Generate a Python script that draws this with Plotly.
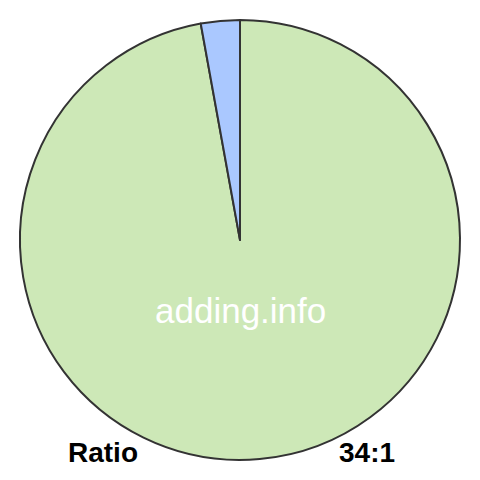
import plotly.graph_objects as go

# Ratio 34:1 shown as a pie
labels = ["34", "1"]
values = [34, 1]
colors = ["#cde8b7", "#aac8ff"]

# the page body adds an 8px margin, so shift everything up/left by 8px
off = 8

fig = go.Figure(go.Pie(
    labels=labels,
    values=values,
    sort=False,
    direction="clockwise",
    rotation=0,
    marker=dict(colors=colors, line=dict(color="#333333", width=2)),
    textinfo="none",
    hoverinfo="skip",
    domain=dict(x=[(20 - off) / 480, (460 - off) / 480],
                y=[(20 + off) / 480, (460 + off) / 480]),
))

font = "Liberation Sans, Arial, sans-serif"


def label(text, cx, cy, size, color):
    fig.add_annotation(x=(cx - off) / 480, y=1 - (cy - off) / 480,
                       xref="paper", yref="paper", xanchor="center", yanchor="middle",
                       text=text, showarrow=False,
                       font=dict(family=font, size=size, color=color))


label("adding.info", 240, 310, 35, "white")
label("<b>Ratio</b>", 103, 452, 28, "black")
label("<b>34:1</b>", 367, 452, 28, "black")

fig.update_layout(
    width=480, height=480,
    margin=dict(l=0, r=0, t=0, b=0),
    showlegend=False,
    paper_bgcolor="white",
    plot_bgcolor="white",
)

fig.write_html("out.html")
